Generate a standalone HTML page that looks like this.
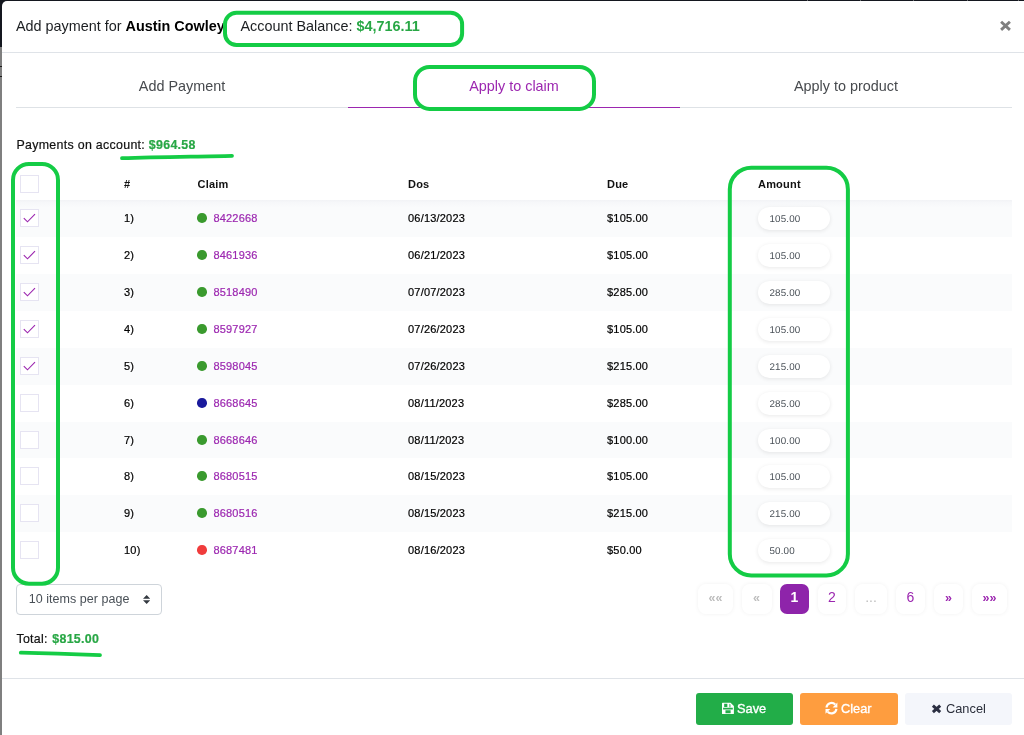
<!DOCTYPE html>
<html><head><meta charset="utf-8"><title>Add payment</title>
<style>
*{box-sizing:border-box;margin:0;padding:0}
html,body{width:1024px;height:735px;overflow:hidden}
body{background:#7f7f7f;font-family:"Liberation Sans",Arial,sans-serif;color:#212529;position:relative}
.bgtop{position:absolute;left:0;top:0;width:1024px;height:47px;background:#14171f}
.tick{position:absolute;top:0;width:1px;height:1px;background:#6a6c70}
.modal{position:absolute;left:2px;top:1px;width:1022px;height:734px;background:#fff;border-radius:5px 0 0 0}
.abs{position:absolute;white-space:nowrap}
.hline{position:absolute;left:2px;width:1022px;height:1px;background:#dfe3e8}
.title{left:16px;top:17px;font-size:14.4px;line-height:18px;color:#1b1e21}
.title b{color:#000}
.bal{left:240.5px;top:17px;font-size:14.4px;line-height:18px;color:#1b1e21}
.green{color:#28a745;font-weight:bold}
.close{left:998px;top:14px;font-size:21px;font-weight:bold;color:#7f7f7f;line-height:24px}
.tabs{position:absolute;left:16px;top:66px;width:996px;height:42px;border-bottom:1px solid #dee2e6;display:flex}
.tab{flex:1;text-align:center;font-size:14.4px;line-height:18px;padding-top:11px;color:#474a4e;height:42px}
.tab.act{color:#9c27b0;border-bottom:1px solid #9c27b0}
.small{-webkit-text-stroke:.2px currentColor;font-size:12.4px;letter-spacing:.3px;line-height:14px;color:#111}
.th{font-size:11px;font-weight:bold;color:#111;line-height:14px;top:177px;letter-spacing:.2px}
.row{position:absolute;left:16px;width:996px;height:36.9px}
.row.odd{background:#fafbfc}
.row.first{background:linear-gradient(#f2f3f6,#f7f8fa 3px,#fafbfc 8px)}
.row .t{-webkit-text-stroke:.2px currentColor;position:absolute;top:11.5px;font-size:11px;line-height:14px;letter-spacing:.2px;color:#000;white-space:nowrap}
.cb{position:absolute;left:4px;top:9.3px;width:19px;height:18px;border:1px solid #e6e4f2;background:#fff}
.cb svg{position:absolute;left:-1px;top:-1px}
.num{left:108px}
.dot{position:absolute;left:181.2px;top:13.7px;width:9.6px;height:9.6px;border-radius:50%}
.row .claim{left:197.4px;color:#9c27b0}
.dos{left:392px}
.due{left:591px}
.inp{position:absolute;left:741.5px;top:7.2px;width:72.5px;height:23.3px;border-radius:12px;background:#fff;box-shadow:0 1px 4px rgba(0,0,0,.09);font-size:9.8px;letter-spacing:.15px;line-height:26px;padding-left:12px;color:#495057;text-rendering:geometricPrecision}
.sel{left:16px;top:584px;width:146px;height:31px;border:1px solid #ced4da;border-radius:4px;font-size:12.5px;line-height:29px;padding-left:11.7px;letter-spacing:.05px;color:#495057;background:#fff}
.pg{position:absolute;top:584px;height:30px;border-radius:8px;background:#fff;box-shadow:0 0 4px rgba(0,0,0,.06);text-align:center;font-size:14px;line-height:27px;color:#9c27b0}
.pg i{font-style:normal;font-weight:bold;font-size:12.5px;position:relative;top:-.5px}
.pg.dis{color:#bdbdbd}
.pg.cur{background:#8e24aa;color:#fff;box-shadow:none;border-radius:7px}
.btn{position:absolute;top:693px;height:32px;border-radius:3px;font-size:13.5px;line-height:32px;color:#fff}
.btn.w span{-webkit-text-stroke:.35px #fff}
.btn span{position:absolute;top:0;transform-origin:0 50%;transform:scaleX(.948);white-space:nowrap}
svg.ov{position:absolute;left:0;top:0;pointer-events:none}
</style></head><body>
<div class="bgtop"></div>
<div class="modal"></div>
<i class="tick" style="left:807px"></i><i class="tick" style="left:860px"></i><i class="tick" style="left:913px"></i><i class="tick" style="left:967px"></i><i class="tick" style="left:1018px"></i>
<i class="tick" style="left:0;top:66px;width:2px;background:#1c1c1c"></i><i class="tick" style="left:0;top:76px;width:2px;background:#1c1c1c"></i>
<div class="hline" style="top:52px"></div>
<div class="abs title">Add payment for <b>Austin Cowley</b></div>
<div class="abs bal">Account Balance: <span class="green">$4,716.11</span></div>

<div class="tabs"><div class="tab">Add Payment</div><div class="tab act">Apply to claim</div><div class="tab">Apply to product</div></div>

<div class="abs small" style="left:16.5px;top:138px">Payments on account: <span class="green">$964.58</span></div>

<span class="cb" style="left:20px;top:174.5px"></span>
<div class="abs th" style="left:124px">#</div>
<div class="abs th" style="left:197.5px">Claim</div>
<div class="abs th" style="left:408px">Dos</div>
<div class="abs th" style="left:607px">Due</div>
<div class="abs th" style="left:758px">Amount</div>
<div class="row odd first" style="top:199.80px;height:37px"><span class="cb"><svg viewBox="0 0 19 19" width="19" height="19"><path d="M3.8 9.1 L7.5 12.8 L15 5.2" fill="none" stroke="#9c27b0" stroke-width="1.15"/></svg></span><span class="t num">1)</span><span class="dot" style="background:#3a9a2e"></span><span class="t claim">8422668</span><span class="t dos">06/13/2023</span><span class="t due">$105.00</span><span class="inp">105.00</span></div>
<div class="row" style="top:236.80px;height:37px"><span class="cb"><svg viewBox="0 0 19 19" width="19" height="19"><path d="M3.8 9.1 L7.5 12.8 L15 5.2" fill="none" stroke="#9c27b0" stroke-width="1.15"/></svg></span><span class="t num">2)</span><span class="dot" style="background:#3a9a2e"></span><span class="t claim">8461936</span><span class="t dos">06/21/2023</span><span class="t due">$105.00</span><span class="inp">105.00</span></div>
<div class="row odd" style="top:273.80px;height:37px"><span class="cb"><svg viewBox="0 0 19 19" width="19" height="19"><path d="M3.8 9.1 L7.5 12.8 L15 5.2" fill="none" stroke="#9c27b0" stroke-width="1.15"/></svg></span><span class="t num">3)</span><span class="dot" style="background:#3a9a2e"></span><span class="t claim">8518490</span><span class="t dos">07/07/2023</span><span class="t due">$285.00</span><span class="inp">285.00</span></div>
<div class="row" style="top:310.80px;height:37px"><span class="cb"><svg viewBox="0 0 19 19" width="19" height="19"><path d="M3.8 9.1 L7.5 12.8 L15 5.2" fill="none" stroke="#9c27b0" stroke-width="1.15"/></svg></span><span class="t num">4)</span><span class="dot" style="background:#3a9a2e"></span><span class="t claim">8597927</span><span class="t dos">07/26/2023</span><span class="t due">$105.00</span><span class="inp">105.00</span></div>
<div class="row odd" style="top:347.80px;height:37px"><span class="cb"><svg viewBox="0 0 19 19" width="19" height="19"><path d="M3.8 9.1 L7.5 12.8 L15 5.2" fill="none" stroke="#9c27b0" stroke-width="1.15"/></svg></span><span class="t num">5)</span><span class="dot" style="background:#3a9a2e"></span><span class="t claim">8598045</span><span class="t dos">07/26/2023</span><span class="t due">$215.00</span><span class="inp">215.00</span></div>
<div class="row" style="top:384.80px;height:37px"><span class="cb"></span><span class="t num">6)</span><span class="dot" style="background:#1a1a9c"></span><span class="t claim">8668645</span><span class="t dos">08/11/2023</span><span class="t due">$285.00</span><span class="inp">285.00</span></div>
<div class="row odd" style="top:421.80px;height:36px"><span class="cb"></span><span class="t num">7)</span><span class="dot" style="background:#3a9a2e"></span><span class="t claim">8668646</span><span class="t dos">08/11/2023</span><span class="t due">$100.00</span><span class="inp">100.00</span></div>
<div class="row" style="top:457.80px;height:37px"><span class="cb"></span><span class="t num">8)</span><span class="dot" style="background:#3a9a2e"></span><span class="t claim">8680515</span><span class="t dos">08/15/2023</span><span class="t due">$105.00</span><span class="inp">105.00</span></div>
<div class="row odd" style="top:494.80px;height:37px"><span class="cb"></span><span class="t num">9)</span><span class="dot" style="background:#3a9a2e"></span><span class="t claim">8680516</span><span class="t dos">08/15/2023</span><span class="t due">$215.00</span><span class="inp">215.00</span></div>
<div class="row" style="top:531.80px;height:37px"><span class="cb"></span><span class="t num">10)</span><span class="dot" style="background:#f03c3c"></span><span class="t claim">8687481</span><span class="t dos">08/16/2023</span><span class="t due">$50.00</span><span class="inp">50.00</span></div>

<div class="abs sel">10 items per page<svg style="position:absolute;left:125.9px;top:9.9px" width="7.3" height="9" viewBox="0 0 7.3 9"><path d="M0 3.7 L3.65 0 L7.3 3.7Z M0 5.3 L3.65 9 L7.3 5.3Z" fill="#343a40"/></svg></div>

<div class="pg dis" style="left:698px;width:35px"><i>&laquo;&laquo;</i></div>
<div class="pg dis" style="left:741.5px;width:30px"><i>&laquo;</i></div>
<div class="pg cur" style="left:780px;width:29px"><b>1</b></div>
<div class="pg" style="left:818px;width:28px">2</div>
<div class="pg dis" style="left:855px;width:32px">...</div>
<div class="pg" style="left:896px;width:29px">6</div>
<div class="pg" style="left:934px;width:29px"><i>&raquo;</i></div>
<div class="pg" style="left:972px;width:35px"><i>&raquo;&raquo;</i></div>

<div class="abs small" style="left:16.4px;top:632px">Total: <span class="green" style="margin-left:.7px">$815.00</span></div>

<div class="hline" style="top:678px"></div>
<div class="btn w" style="left:696px;width:97px;background:#22ad48"><span style="left:41px">Save</span></div>
<div class="btn w" style="left:800px;width:98px;background:#fe9d3f"><span style="left:41px">Clear</span></div>
<div class="btn" style="left:905px;width:107px;background:#f4f6fb;color:#2a2e3a"><span style="left:40.5px">Cancel</span></div>

<svg class="ov" width="1024" height="735" viewBox="0 0 1024 735" fill="none" stroke="#14cc45" stroke-width="4">
<rect x="225" y="12.8" width="237.1" height="32.2" rx="11.5"/>
<rect x="415" y="66.9" width="179" height="42" rx="14.5"/>
<rect x="13" y="163.9" width="45" height="419.8" rx="16"/>
<rect x="729.8" y="167.7" width="118.1" height="407.7" rx="21.5"/>
<g stroke="none">
<g transform="translate(722 702.8) scale(0.9917 0.94)"><path fill="#fff" fill-rule="evenodd" d="M0.6 0 H8.6 L12 3.3 V11.4 Q12 12 11.4 12 H0.6 Q0 12 0 11.4 V0.6 Q0 0 0.6 0Z M2.2 0.9 V4.6 H5.4 V0.9Z M7.5 1 V4.7 H8.5 V1.9 L7.6 1Z M1.1 5.2 V7.2 H10.9 V5.2Z M3.5 8 V11 H8.7 V8Z"/></g>
<g transform="translate(825.3 702.3)" fill="#fff"><path d="M1.2 5.2 A5 5 0 0 1 9.9 2.3" fill="none" stroke="#fff" stroke-width="2.2"/><path d="M12.1 0.3 V5.1 H7.3Z"/><path d="M11.1 6.5 A5 5 0 0 1 2.4 9.4" fill="none" stroke="#fff" stroke-width="2.2"/><path d="M0.2 11.4 V6.6 H5Z"/></g>
<path d="M932.9 705.6 L940.2 712.1 M940.2 705.6 L932.9 712.1" stroke="#2b2f42" stroke-width="3" fill="none"/>
</g>
<path d="M1001.1 21.8 L1009.9 29.9 M1009.9 21.8 L1001.1 29.9" stroke="#7f7f7f" stroke-width="2.9"/>
<path d="M122 158.2 C 160 157, 200 156.6, 232 155.8" stroke-width="3.8" stroke-linecap="round"/>
<path d="M20.8 652.7 C 45 653.2, 75 654.2, 100 655.2" stroke-width="3.8" stroke-linecap="round"/>
</svg>
</body></html>
